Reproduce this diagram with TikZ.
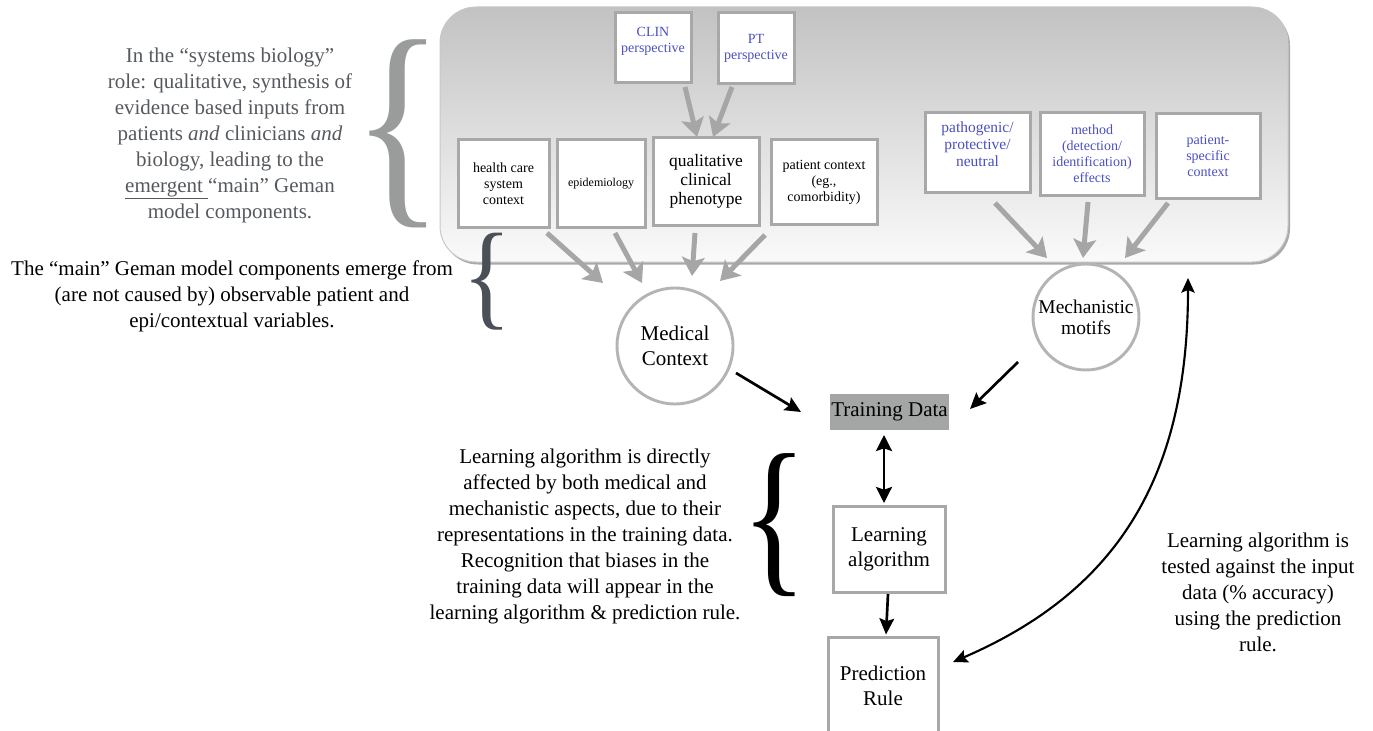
\documentclass[tikz,border=0pt]{standalone}
\usepackage{fontspec}
\setmainfont{Liberation Serif}
\usetikzlibrary{arrows.meta}
\definecolor{boxgray}{HTML}{A8A8A8}
\definecolor{arrgray}{HTML}{A6A6A6}
\definecolor{circgray}{HTML}{B4B4B4}
\definecolor{tdfill}{HTML}{A3A6A4}
\definecolor{bluetxt}{HTML}{4B50C0}
\definecolor{lefttxt}{HTML}{55595E}
\definecolor{bracegray}{HTML}{9A9C9C}
\definecolor{bracedark}{HTML}{4B5058}
\definecolor{paneltop}{HTML}{C2C2C2}
\definecolor{panelbot}{HTML}{FAFAFA}
\definecolor{panelline}{HTML}{C8C8C8}
\definecolor{shadowgray}{HTML}{A9A9A9}
\newcommand\fsSmall{\fontsize{10.5pt}{12pt}\selectfont}
\newcommand\fsTiny{\fontsize{9pt}{11pt}\selectfont}
\newcommand\fsQual{\fontsize{13.1pt}{14.25pt}\selectfont}
\newcommand\fsPath{\fontsize{11.6pt}{12.75pt}\selectfont}
\newcommand\fsBig{\fontsize{15.75pt}{19.5pt}\selectfont}
\newcommand\fsCirc{\fontsize{15.75pt}{18.75pt}\selectfont}
\newcommand\fsMech{\fontsize{14.6pt}{15.75pt}\selectfont}
\tikzset{
  box/.style={draw=boxgray, line width=2.25pt, fill=white, inner sep=0pt, align=center},
  circ/.style={draw=circgray, line width=2.2pt, fill=white, circle, inner sep=0pt, align=center},
  garrow/.style={draw=arrgray, line width=3.75pt, -{Stealth[length=14pt,width=17pt,inset=3pt]}},
  barrow/.style={draw=black, line width=2pt, -{Stealth[length=12pt,width=11pt,inset=2pt]}},
  bdarrow/.style={draw=black, line width=2pt, {Stealth[length=12pt,width=12pt,inset=2pt]}-{Stealth[length=12pt,width=12pt,inset=2pt]}},
  carrow/.style={draw=black, line width=1.6pt, {Stealth[length=11pt,width=10pt,inset=2pt]}-{Stealth[length=11pt,width=10pt,inset=2pt]}},
  txt/.style={inner sep=0pt, align=center},
  bracenode/.style={inner sep=0pt, outer sep=0pt},
}
\begin{document}
\begin{tikzpicture}[x=0.75pt, y=-0.75pt]
\useasboundingbox (0,0) rectangle (1373,731);

% panel with shadow
\node[fill=shadowgray, rounded corners=27pt, minimum width=636pt, minimum height=191.25pt, inner sep=0pt] (shadow) at (866,137) {};
\node[draw=panelline, line width=0.75pt, rounded corners=27pt, top color=paneltop, bottom color=panelbot, minimum width=636pt, minimum height=191.25pt, inner sep=0pt] (panel) at (864,134.5) {};

% top boxes
\node[box, minimum width=57pt, minimum height=52.5pt, label={[text=bluetxt, font=\fsSmall, align=center, yshift=5.25pt]center:{CLIN\\perspective}}] (clin) at (653,48) {};
\node[box, minimum width=57pt, minimum height=53.25pt, text=bluetxt, font=\fsSmall] (pt) at (756,48.5) {PT\\perspective};

\node[box, minimum width=68.25pt, minimum height=65.25pt, font=\fsSmall] (hc) at (503.5,183.5) {health care\\system\\context};
\node[box, minimum width=66pt, minimum height=65.25pt, font=\fsTiny] (epi) at (601,183.5) {epidemiology};
\node[box, minimum width=79.5pt, minimum height=65.25pt, font=\fsQual] (qual) at (706,181.5) {qualitative\\clinical\\phenotype};
\node[box, minimum width=79.5pt, minimum height=63pt, font=\fsSmall] (pc) at (824,182) {patient context\\(eg.,\\comorbidity)};

\node[box, minimum width=78.75pt, minimum height=59.25pt, label={[text=bluetxt, font=\fsPath, align=center, yshift=6pt]center:{pathogenic/\\protective/\\neutral}}] (path) at (977.5,152.5) {};
\node[box, minimum width=78pt, minimum height=61.5pt, text=bluetxt, font=\fsSmall] (meth) at (1092,154) {method\\(detection/\\identification)\\effects};
\node[box, minimum width=78pt, minimum height=63pt, text=bluetxt, font=\fsSmall] (ps) at (1208,156) {patient-\\specific\\context};

% circles
\node[circ, minimum size=87pt, font=\fsCirc] (mc) at (675,346) {Medical\\Context};
\node[circ, minimum size=79.5pt, font=\fsMech] (mm) at (1086,317) {Mechanistic\\motifs};

% lower boxes
\node[fill=tdfill, minimum width=89.25pt, minimum height=27pt, inner sep=0pt, font=\fsBig] (td) at (889.5,412) {Training Data};
\node[box, minimum width=84pt, minimum height=64.5pt, font=\fsCirc] (la) at (889,549) {Learning\\algorithm};
\node[box, minimum width=82.5pt, minimum height=72.75pt, font=\fsCirc] (pr) at (883,685.5) {Prediction\\Rule};

% gray arrows
\draw[garrow] ([shift={(32,39)}]clin.center) -- ([shift={(-9,-44.5)}]qual.center);
\draw[garrow] ([shift={(-24,38.5)}]pt.center) -- ([shift={(7,-44.5)}]qual.center);
\draw[garrow] ([shift={(43.5,49.5)}]hc.center) -- ([shift={(-72,-63)}]mc.center);
\draw[garrow] ([shift={(14,49.5)}]epi.center) -- ([shift={(-33,-63)}]mc.center);
\draw[garrow] ([shift={(-11,51.5)}]qual.center) -- ([shift={(17,-70)}]mc.center);
\draw[garrow] ([shift={(-59,53)}]pc.center) -- ([shift={(45,-65)}]mc.center);
\draw[garrow] ([shift={(17.5,50.5)}]path.center) -- ([shift={(-39,-59)}]mm.center);
\draw[garrow] ([shift={(-4,48)}]meth.center) -- ([shift={(-3,-59)}]mm.center);
\draw[garrow] ([shift={(-40,47)}]ps.center) -- ([shift={(39,-59)}]mm.center);

% black arrows
\draw[barrow] ([shift={(61,27)}]mc.center) -- ([shift={(-88.5,0)}]td.center);
\draw[barrow] ([shift={(-68,45)}]mm.center) -- ([shift={(80.5,-3)}]td.center);
\draw[bdarrow] ([shift={(-5.5,23)}]td.center) -- ([shift={(-5,-46)}]la.center);
\draw[barrow] ([shift={(-1,45)}]la.center) -- ([shift={(3,-51)}]pr.center);
\draw[carrow] ([shift={(70,-23.5)}]pr.center) .. controls (1115,592) and (1188,480) .. ([shift={(324,143.5)}]panel.center);

% braces
\node[bracenode, text=bracegray] (brA) at (398.5,134) {\resizebox*{68.5pt}{141pt}{\{}};
\node[bracenode, text=bracedark] (brB) at (487,281.5) {\resizebox*{37pt}{72.75pt}{\{}};
\node[bracenode, text=black] (brC) at (774.5,525.5) {\resizebox*{49.5pt}{107.25pt}{\{}};

% texts
\node[txt, text=lefttxt, font=\fsBig] (tA) at (230,135) {In the “systems biology”\\role: qualitative, synthesis of\\evidence based inputs from\\patients \textit{and} clinicians \textit{and}\\biology, leading to the\\\underline{emergent\ }“main” Geman\\model components.};
\node[txt, font=\fsBig] (tB) at (232,296) {The “main” Geman model components emerge from\\(are not caused by) observable patient and\\epi/contextual variables.};
\node[txt, font=\fsBig] (tC) at (585,536) {Learning algorithm is directly\\affected by both medical and\\mechanistic aspects, due to their\\representations in the training data.\\Recognition that biases in the\\training data will appear in the\\learning algorithm \& prediction rule.};
\node[txt, font=\fsBig] (tD) at (1258,592) {Learning algorithm is\\tested against the input\\data (\% accuracy)\\using the prediction\\rule.};
\end{tikzpicture}
\end{document}
